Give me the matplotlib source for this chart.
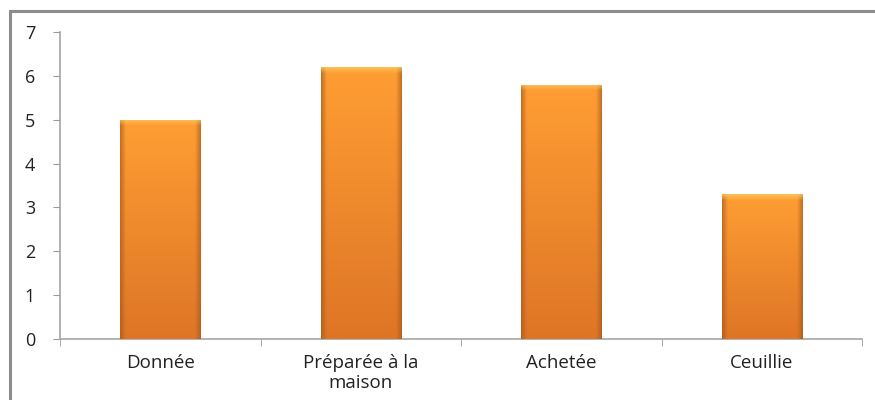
import numpy as np
import matplotlib.pyplot as plt
from matplotlib.patches import Rectangle

categories = ["Donnée", "Préparée à la\nmaison", "Achetée", "Ceuillie"]
values = [5.0, 6.2, 5.8, 3.3]
y_ticks = [0, 1, 2, 3, 4, 5, 6, 7]

TOP = np.array([1.00, 0.62, 0.20])    # light orange at the top of a bar
BOTTOM = np.array([0.87, 0.46, 0.15])  # darker orange near the base
EDGE = np.array([0.62, 0.33, 0.10])    # bevel shade on the sides
SHINE = np.array([1.00, 0.80, 0.40])   # bevel highlight on the top


def bevel_image(h=200, w=80, frac_side=0.07, top_px=6):
    t = np.linspace(0, 1, h)[:, None, None]
    img = TOP * (1 - t) + BOTTOM * t
    img = np.repeat(img, w, axis=1)
    x = np.linspace(0, 1, w)
    side = np.clip(1 - np.minimum(x, 1 - x) / frac_side, 0, 1)[None, :, None]
    img = img * (1 - 0.6 * side) + EDGE * 0.6 * side
    fade = np.clip(1 - np.arange(h) / top_px, 0, 1)[:, None, None]
    img = img * (1 - 0.7 * fade) + SHINE * 0.7 * fade
    return np.clip(img, 0, 1)


fig = plt.figure(figsize=(8.75, 4), dpi=100)
ax = fig.add_axes([60 / 875, 61 / 400, 802 / 875, 307 / 400])

x = np.arange(len(categories))
bars = ax.bar(x, values, width=0.4, color=BOTTOM, edgecolor="none", zorder=2)
for b in bars:
    x0, w, h = b.get_x(), b.get_width(), b.get_height()
    im = ax.imshow(bevel_image(h=int(h * 44)), extent=[x0, x0 + w, 0, h],
                   aspect="auto", zorder=3, interpolation="bilinear")
    im.set_clip_path(b)

ax.set_xlim(-0.5, len(categories) - 0.5)
ax.set_ylim(0, 7)
ax.set_yticks(y_ticks)
ax.set_xticks(x)
ax.set_xticklabels(categories, fontsize=13.5, color="#222222", family="Open Sans",
                   linespacing=1.1)
ax.tick_params(axis="x", length=0, pad=11)
ax.tick_params(axis="y", length=5, color="#999999", labelsize=13,
               labelcolor="#222222", pad=13)
# boundary ticks under the category axis
ax.set_xticks(np.arange(len(categories) + 1) - 0.5, minor=True)
ax.tick_params(axis="x", which="minor", length=5, color="#999999")
for lab in ax.get_yticklabels():
    lab.set_family("Open Sans")

for s in ["top", "right"]:
    ax.spines[s].set_visible(False)
for s in ["left", "bottom"]:
    ax.spines[s].set_color("#a6a6a6")
    ax.spines[s].set_linewidth(1.2)

# chart area frame, running off the right and bottom edges
fig.patches.append(Rectangle((9.5 / 875, -0.1), 1.1, 1.1 - 10.5 / 400,
                             transform=fig.transFigure, fill=False,
                             edgecolor="#8c8c8c", linewidth=2.2))

fig.savefig("out.png", dpi=100)
